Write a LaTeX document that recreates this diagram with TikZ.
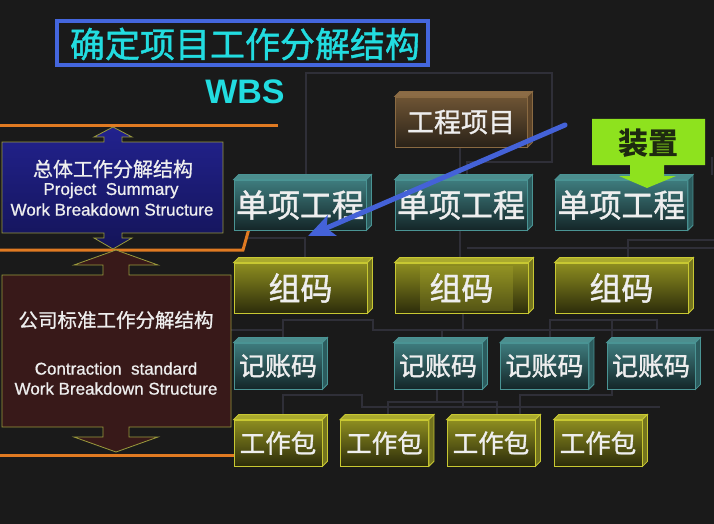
\documentclass[tikz,border=0pt]{standalone}
\usepackage{fontspec}
\setmainfont{Liberation Sans}
\newfontfamily\cjk{Noto Sans CJK SC}
\newfontfamily\cjkm[FakeBold=1.2]{Noto Sans CJK SC}
\newfontfamily\cjkt[FakeBold=0.8]{Noto Sans CJK SC}
\newfontfamily\engm[FakeBold=0.9]{Liberation Sans}
\usetikzlibrary{arrows.meta,calc}
\definecolor{bg}{HTML}{1A1A1A}
\definecolor{grid}{HTML}{2F2F38}
\definecolor{orng}{HTML}{E07A22}
\definecolor{cyantx}{HTML}{22DCE0}
\definecolor{titleblue}{HTML}{4466DD}
\definecolor{arrowblue}{HTML}{4462D8}
\definecolor{txt}{HTML}{EEEEEE}
\definecolor{tealtop}{HTML}{3E7C7E}
\definecolor{tealbot}{HTML}{142628}
\definecolor{tealedge}{HTML}{4A9494}
\definecolor{tealupper}{HTML}{4C8E8E}
\definecolor{tealside}{HTML}{2C5C5E}
\definecolor{olivetop}{HTML}{8E8E20}
\definecolor{olivebot}{HTML}{2C2C0A}
\definecolor{oliveedge}{HTML}{C8C832}
\definecolor{oliveupper}{HTML}{AAAA2E}
\definecolor{oliveside}{HTML}{74741E}
\definecolor{browntop}{HTML}{6E5434}
\definecolor{brownbot}{HTML}{2A2218}
\definecolor{brownedge}{HTML}{8A6A42}
\definecolor{brownupper}{HTML}{8C6C46}
\definecolor{brownside}{HTML}{5C4429}
\definecolor{navytop}{HTML}{22228E}
\definecolor{navybot}{HTML}{141458}
\definecolor{maroon}{HTML}{381919}
\definecolor{boxedge}{HTML}{9A9A3C}
\definecolor{lime}{HTML}{8EE21E}
\definecolor{limetext}{HTML}{1E2A10}
\newcommand\cubefaces[4]{%
  \filldraw[fill=#2, draw=#4, line width=0.8pt] (#1.north west) -- ++(5,-5) -- ([shift={(5,-5)}]#1.north east) -- (#1.north east) -- cycle;
  \filldraw[fill=#3, draw=#4, line width=0.8pt] (#1.north east) -- ++(5,-5) -- ([shift={(5,-5)}]#1.south east) -- (#1.south east) -- cycle;
}
\begin{document}
\begin{tikzpicture}[x=1pt,y=-1pt,
  cube/.style={draw, line width=0.8pt, inner sep=0pt, text=txt},
  tealcube/.style={cube, draw=tealedge, top color=tealtop, bottom color=tealbot},
  olivecube/.style={cube, draw=oliveedge, top color=olivetop, bottom color=olivebot},
  browncube/.style={cube, draw=brownedge, top color=browntop, bottom color=brownbot},
  big/.style={minimum width=132, minimum height=50, font=\cjkm\fontsize{32}{36}\selectfont},
  small/.style={minimum width=88, minimum height=46, font=\cjkm\fontsize{26}{30}\selectfont},
  gridline/.style={draw=grid, line width=1.3pt},
  orangeline/.style={draw=orng, line width=3pt},
  sidetext/.style={text=txt, inner sep=0pt},
  engtext/.style={sidetext, font=\engm\fontsize{17}{19}\selectfont},
]
\useasboundingbox (0,0) rectangle (714,524);
\fill[bg] (0,0) rectangle (714,524);

% faint tree lines
\path[gridline] (306,175) -- (306,73) -- (552,73) -- (552,162) -- (467,162) -- (467,175);
\path[gridline] (460,147) -- (460,175);
\path[gridline] (712,157) -- (712,175);
\path[gridline] (460,230) -- (460,257);
\path[gridline] (467,248) -- (714,248);
\path[gridline] (628,257) -- (628,240) -- (714,240);
\path[gridline] (245,238) -- (305,238) -- (305,257);
\path[gridline] (231,330) -- (283,330);
\path[gridline] (283,343) -- (283,320) -- (373,320) -- (373,330) -- (714,330);
\path[gridline] (463,313) -- (463,330);
\path[gridline] (442,330) -- (442,343);
\path[gridline] (550,343) -- (550,320) -- (657,320) -- (657,330);
\path[gridline] (612,320) -- (612,343);
\path[gridline] (283,420) -- (283,395) -- (362,395) -- (362,407) -- (660,407);
\path[gridline] (388,420) -- (388,402) -- (497,402) -- (497,420);
\path[gridline] (437,389) -- (437,402);
\path[gridline] (463,389) -- (463,407);
\path[gridline] (520,420) -- (520,395) -- (612,395) -- (612,389);

% orange lines
\path[orangeline] (0,125) -- (278,125);
\path[orangeline] (0,250) -- (243,250) -- (252,218);
\path[orangeline] (0,455) -- (240,455);

% left boxes
\filldraw[draw=boxedge, line width=0.8pt, top color=navytop, bottom color=navybot]
  (2,142) -- (104,142) -- (104,137) -- (94,137) -- (113,127) -- (132,137) -- (122,137) -- (122,142)
  -- (223,142) -- (223,233) -- (122,233) -- (122,238) -- (132,238) -- (113,249) -- (94,238)
  -- (104,238) -- (104,233) -- (2,233) -- cycle;
\filldraw[draw=boxedge, line width=0.8pt, fill=maroon]
  (2,275) -- (103,275) -- (103,265) -- (74,265) -- (116,250) -- (158,265) -- (129,265) -- (129,275)
  -- (231,275) -- (231,427) -- (129,427) -- (129,437) -- (158,437) -- (116,452) -- (74,437)
  -- (103,437) -- (103,427) -- (2,427) -- cycle;

\node[sidetext, font=\cjkt\fontsize{20}{22}\selectfont] (s1) at (113,169) {总体工作分解结构};
\node[engtext] (s2) at (111,190.5) {Project\ \ Summary};
\node[engtext] (s3) at (112,209.5) {Work Breakdown Structure};
\node[sidetext, font=\cjkt\fontsize{19.5}{22}\selectfont] (c1) at (116,320) {公司标准工作分解结构};
\node[engtext] (c2) at (116,368.5) {Contraction\ \ standard};
\node[engtext] (c3) at (116,388.5) {Work Breakdown Structure};

% title
\node[draw=titleblue, line width=4pt, fill=bg, minimum width=371, minimum height=44, inner sep=0pt] (tbox) at (242.5,43) {};
\node[text=cyantx, font=\cjkm\fontsize{35}{38}\selectfont, inner sep=0pt] (title) at (245,44) {确定项目工作分解结构};
\node[text=cyantx, font=\bfseries\fontsize{34}{36}\selectfont, inner sep=0pt] (wbs) at (245,92) {WBS};

% cubes
\node[browncube, minimum width=132, minimum height=50, font=\cjkm\fontsize{27}{30}\selectfont] (p) at (461,122) {工程项目};
\cubefaces{p}{brownupper}{brownside}{brownedge}

\node[tealcube, big] (d1) at (300,205) {单项工程};
\node[tealcube, big] (d2) at (461,205) {单项工程};
\node[tealcube, big] (d3) at (621.5,205) {单项工程};
\foreach \n in {d1,d2,d3} {\cubefaces{\n}{tealupper}{tealside}{tealedge}}

\node[olivecube, big, minimum width=133] (g1) at (300.5,288) {组码};
\node[olivecube, big, minimum width=133] (g2) at (461.5,288) {};
\fill[oliveupper, opacity=0.3] (420,266) rectangle (513,311);
\node[text=txt, font=\cjkm\fontsize{32}{36}\selectfont, inner sep=0pt] (g2t) at (g2.center) {组码};
\node[olivecube, big, minimum width=133] (g3) at (621.5,288) {组码};
\foreach \n in {g1,g2,g3} {\cubefaces{\n}{oliveupper}{oliveside}{oliveedge}}

\node[tealcube, small] (j1) at (278,366) {记账码};
\node[tealcube, small] (j2) at (438,366) {记账码};
\node[tealcube, small] (j3) at (544.5,366) {记账码};
\node[tealcube, small] (j4) at (651,366) {记账码};
\foreach \n in {j1,j2,j3,j4} {\cubefaces{\n}{tealupper}{tealside}{tealedge}}

\node[olivecube, small, font=\cjkm\fontsize{25.5}{30}\selectfont] (w1) at (278,443) {工作包};
\node[olivecube, small, font=\cjkm\fontsize{25.5}{30}\selectfont] (w2) at (384.5,443) {工作包};
\node[olivecube, small, font=\cjkm\fontsize{25.5}{30}\selectfont] (w3) at (491,443) {工作包};
\node[olivecube, small, font=\cjkm\fontsize{25.5}{30}\selectfont] (w4) at (598,443) {工作包};
\foreach \n in {w1,w2,w3,w4} {\cubefaces{\n}{oliveupper}{oliveside}{oliveedge}}

% 装置 callout
\fill[lime] (592,119) -- (705,119) -- (705,165) -- (664,165) -- (664,176) -- (676,176) -- (647,188)
  -- (619,176) -- (630,176) -- (630,165) -- (592,165) -- cycle;
\node[text=limetext, font=\cjk\bfseries\fontsize{30}{32}\selectfont, inner sep=0pt] (zz) at (648,143) {装置};

% blue arrow
\coordinate (bstart) at (565,125);
\coordinate (bend) at (308,236);
\draw[arrowblue, line width=5pt, line cap=round, -{Stealth[length=26pt,width=22pt,inset=6pt]}] (bstart) -- (bend);
\end{tikzpicture}
\end{document}
